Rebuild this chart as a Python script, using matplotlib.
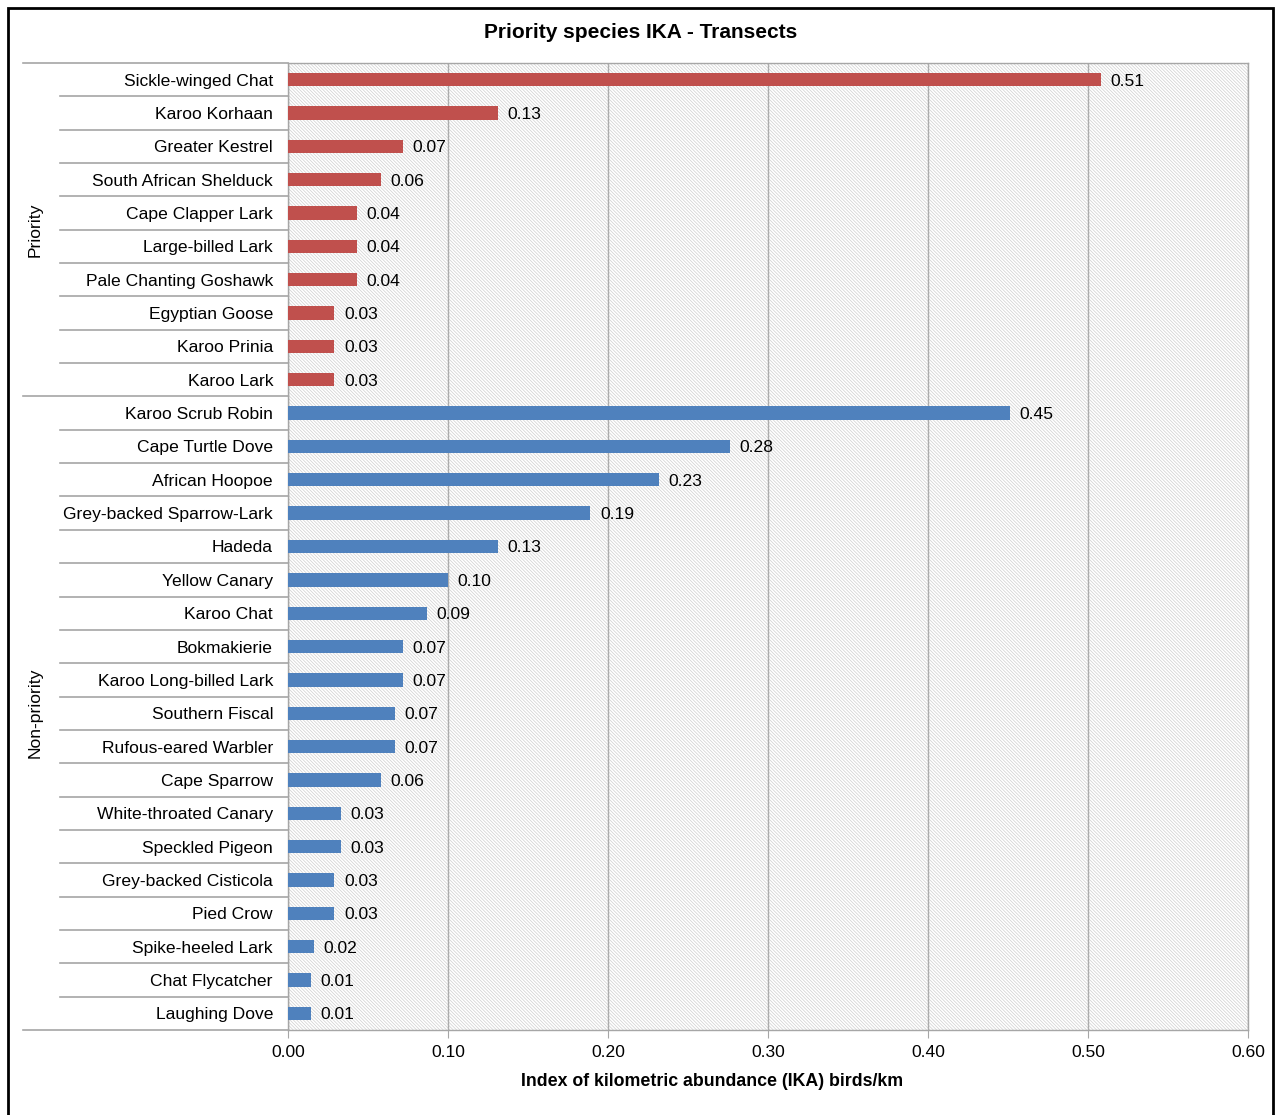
import matplotlib
matplotlib.use("Agg")
import matplotlib.pyplot as plt
from matplotlib.patches import Rectangle
import matplotlib.transforms as mtransforms
import numpy as np

plt.rcParams['font.family'] = ['Liberation Sans', 'DejaVu Sans']
plt.rcParams['hatch.linewidth'] = 0.5

priority_species = ["Sickle-winged Chat", "Karoo Korhaan", "Greater Kestrel",
                    "South African Shelduck", "Cape Clapper Lark", "Large-billed Lark",
                    "Pale Chanting Goshawk", "Egyptian Goose", "Karoo Prinia", "Karoo Lark"]
priority_ika = [0.508, 0.131, 0.072, 0.058, 0.043, 0.043, 0.043, 0.029, 0.029, 0.029]

other_species = ["Karoo Scrub Robin", "Cape Turtle Dove", "African Hoopoe",
                 "Grey-backed Sparrow-Lark", "Hadeda", "Yellow Canary", "Karoo Chat",
                 "Bokmakierie", "Karoo Long-billed Lark", "Southern Fiscal",
                 "Rufous-eared Warbler", "Cape Sparrow", "White-throated Canary",
                 "Speckled Pigeon", "Grey-backed Cisticola", "Pied Crow",
                 "Spike-heeled Lark", "Chat Flycatcher", "Laughing Dove"]
other_ika = [0.451, 0.276, 0.232, 0.189, 0.131, 0.100, 0.087, 0.072, 0.072, 0.067,
             0.067, 0.058, 0.033, 0.033, 0.029, 0.029, 0.016, 0.0145, 0.0145]

groups = ["Priority", "Non-priority"]
xticks = [0.0, 0.1, 0.2, 0.3, 0.4, 0.5, 0.6]

names = priority_species + other_species
vals = priority_ika + other_ika
cols = ["#C0504D"] * len(priority_species) + ["#4F81BD"] * len(other_species)
n = len(names)
ypos = np.arange(n)
fs = 12.6

fig = plt.figure(figsize=(12.77, 11.15), dpi=100)
ax = fig.add_axes([288/1277, 1 - 1030/1115, 960/1277, 967/1115])

# hatched background
bg = Rectangle((0, 0), 1, 1, transform=ax.transAxes, facecolor="white",
               edgecolor="#cfcfcf", linewidth=0, hatch="\\" * 10, zorder=0)
ax.add_patch(bg)

ax.barh(ypos, vals, height=0.4, color=cols, zorder=3)
for y, v in zip(ypos, vals):
    ax.text(v + 0.006, y, f"{v:.2f}", va="center_baseline", ha="left", fontsize=fs, zorder=4)

ax.set_ylim(n - 0.5, -0.5)
ax.set_xlim(0, 0.6)
ax.set_xticks(xticks)
ax.set_xticklabels([f"{t:.2f}" for t in xticks], fontsize=fs)
ax.set_yticks([])
ax.grid(axis="x", color="#acacac", linewidth=1, zorder=1)
ax.tick_params(axis="x", direction="out", length=6, color="#a6a6a6", pad=5)
for s in ax.spines.values():
    s.set_color("#a6a6a6")
    s.set_linewidth(1)

fig.text(712/1277, 1 - 1081/1115, "Index of kilometric abundance (IKA) birds/km",
         ha="center", va="center", fontsize=12.8, fontweight="bold")
fig.text(641/1277, 1 - 33/1115, "Priority species IKA - Transects",
         ha="center", va="center", fontsize=15, fontweight="bold")

# category labels and separators on the left
trans = mtransforms.blended_transform_factory(ax.transAxes, ax.transData)
for y, name in zip(ypos, names):
    ax.text(-15/960, y, name, transform=trans, ha="right", va="center_baseline", fontsize=fs)
n_pri = len(priority_species)
for b in range(n + 1):
    yb = b - 0.5
    x0 = -265/960 if b in (0, n_pri, n) else -228/960
    ax.plot([x0, 0], [yb, yb], transform=trans, color="#a6a6a6", lw=1.2,
            clip_on=False, zorder=5)

ax.text(-253/960, (n_pri - 1) / 2, groups[0], transform=trans, rotation=90,
        ha="center", va="center", fontsize=fs)
ax.text(-253/960, n_pri + (n - n_pri - 1) / 2, groups[1], transform=trans, rotation=90,
        ha="center", va="center", fontsize=fs)

# outer frame
fig.patches.append(Rectangle((8/1277, -0.02), 1265/1277, 1.02 - 8/1115,
                             transform=fig.transFigure, fill=False,
                             edgecolor="black", linewidth=2))

fig.savefig("out.png", dpi=100)
